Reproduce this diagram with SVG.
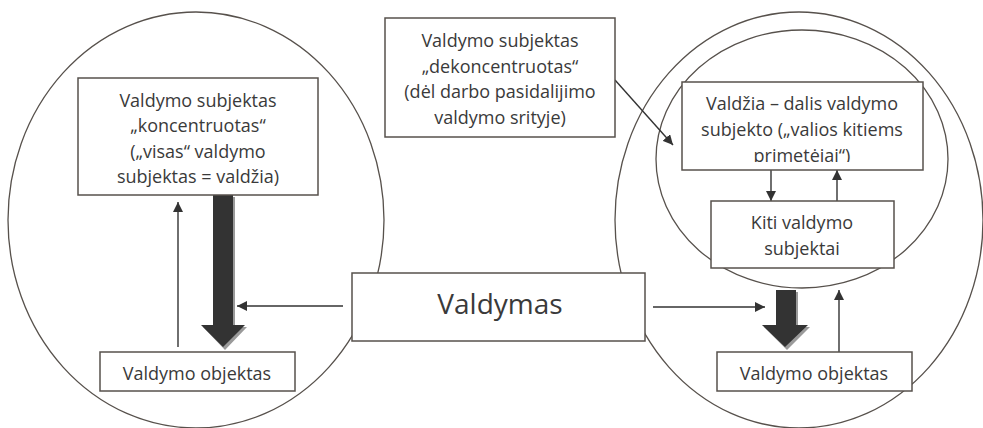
<svg xmlns="http://www.w3.org/2000/svg" width="983" height="428" viewBox="0 0 983 428">
<style>
.c{fill:none;stroke:#57514c;stroke-width:1.3}
.b{fill:#fff;stroke:#57514c;stroke-width:1.5}
.t{font-family:"Open Sans","Liberation Sans",sans-serif;font-size:18px;fill:#3a3a3a;text-anchor:middle}
.l{fill:none;stroke:#333;stroke-width:1.4}
.big{fill:#333}
.sh{fill:#9a9a9a}
</style>
<defs>
<marker id="ah" viewBox="0 0 10 10" refX="10" refY="5" markerWidth="10" markerHeight="10" markerUnits="userSpaceOnUse" orient="auto">
<polygon points="0,0 10,5 0,10" fill="#333"/>
</marker>
<clipPath id="clipV"><rect x="682" y="82" width="241" height="80"/></clipPath>
</defs>
<g id="circles">
<ellipse class="c" cx="196" cy="220" rx="188" ry="208"/>
<ellipse class="c" cx="799" cy="220" rx="184" ry="208"/>
<ellipse class="c" cx="802" cy="159" rx="146" ry="129"/>
</g>
<g id="connectors">
<line class="l" x1="178" y1="347" x2="178" y2="202" marker-end="url(#ah)"/>
<line class="l" x1="343" y1="306" x2="237" y2="306" marker-end="url(#ah)"/>
<line class="l" x1="653" y1="307" x2="765" y2="307" marker-end="url(#ah)"/>
<line class="l" x1="615" y1="80" x2="673" y2="145" marker-end="url(#ah)"/>
<line class="l" x1="771" y1="170" x2="771" y2="201" marker-end="url(#ah)"/>
<line class="l" x1="837" y1="201" x2="837" y2="170" marker-end="url(#ah)"/>
<line class="l" x1="839" y1="352" x2="839" y2="290" marker-end="url(#ah)"/>
<polygon class="sh" points="215,197 235,197 235,327 247,327 225,350 203,327 215,327"/>
<polygon class="big" points="213,195 233,195 233,325 245,325 223,347 201,325 213,325"/>
<polygon class="sh" points="778,292 798,292 798,327 810,327 787,350 764,327 778,327"/>
<polygon class="big" points="776,290 796,290 796,325 808,325 785,347 762,325 776,325"/>
</g>
<g id="subjektas-koncentruotas">
<rect class="b" x="78" y="78" width="240" height="117"/>
<text class="t" x="198" y="107">Valdymo subjektas</text>
<text class="t" x="198" y="132">„koncentruotas“</text>
<text class="t" x="198" y="158">(„visas“ valdymo</text>
<text class="t" x="198" y="183">subjektas = valdžia)</text>
</g>
<g id="objektas-left">
<rect class="b" x="100" y="352" width="195" height="39"/>
<text class="t" x="197" y="380">Valdymo objektas</text>
</g>
<g id="subjektas-dekoncentruotas">
<rect class="b" x="385" y="18" width="230" height="119"/>
<text class="t" x="500" y="47">Valdymo subjektas</text>
<text class="t" x="500" y="73">„dekoncentruotas“</text>
<text class="t" x="500" y="98">(dėl darbo pasidalijimo</text>
<text class="t" x="500" y="124">valdymo srityje)</text>
</g>
<g id="valdymas">
<rect class="b" x="352" y="273" width="293" height="68"/>
<text class="t" x="500" y="314" style="font-size:28px">Valdymas</text>
</g>
<g id="valdzia">
<rect class="b" x="682" y="82" width="241" height="88"/>
<text class="t" x="802" y="110">Valdžia – dalis valdymo</text>
<text class="t" x="802" y="136">subjekto („valios kitiems</text>
<text class="t" x="802" y="162" clip-path="url(#clipV)">primetėjai“)</text>
</g>
<g id="kiti">
<rect class="b" x="711" y="201" width="183" height="67"/>
<text class="t" x="802" y="229">Kiti valdymo</text>
<text class="t" x="802" y="255">subjektai</text>
</g>
<g id="objektas-right">
<rect class="b" x="717" y="352" width="195" height="39"/>
<text class="t" x="814" y="380">Valdymo objektas</text>
</g>
</svg>
